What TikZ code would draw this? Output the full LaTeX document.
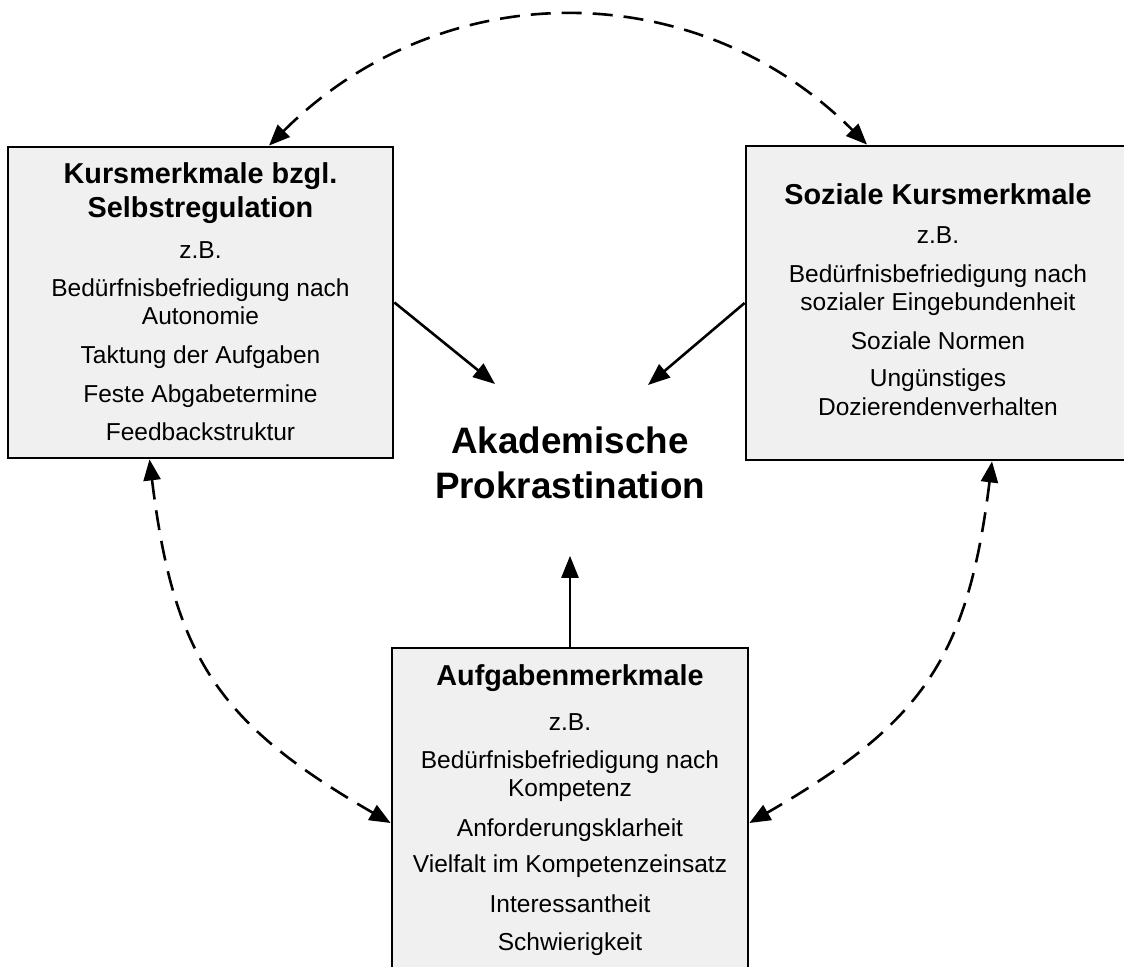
\documentclass[tikz,border=0pt]{standalone}
\usepackage{fontspec}
\setmainfont{Liberation Sans}
\usetikzlibrary{arrows.meta,calc}
\definecolor{boxfill}{RGB}{240,240,240}
\begin{document}
\begin{tikzpicture}[x=0.5pt,y=0.5pt,
  box/.style={draw=black,line width=1.4pt,fill=boxfill,inner sep=0pt},
  txt/.style={align=center,inner sep=0pt,anchor=north,font=\fontsize{12.25}{14.35}\selectfont},
  arr/.style={line width=1.3pt,-{Triangle[length=11pt,width=8.5pt]}},
  darr/.style={line width=1.3pt,dash pattern=on 10pt off 5.5pt,{Triangle[length=10.5pt,width=8.5pt]}-{Triangle[length=10.5pt,width=8.5pt]}},
]
\useasboundingbox (0,0) rectangle (1124,-967);

% boxes
\node[box,minimum width=192.5pt,minimum height=155.5pt] (L) at (200.5,-302.5) {};
\node[box,minimum width=192pt,minimum height=157pt] (R) at (938,-303) {};
\node[box,minimum width=178pt,minimum height=163.5pt] (B) at (570,-811.5) {};

% texts
\node[txt] (Lt) at (200.5,-162) {{\bfseries\fontsize{14.4}{17}\selectfont Kursmerkmale bzgl.}\\[2.65pt]
{\bfseries\fontsize{14.4}{17}\selectfont Selbstregulation}\\[6.15pt]
z.B.\\[4.65pt]
Bedürfnisbefriedigung nach\\
Autonomie\\[5.15pt]
Taktung der Aufgaben\\[4.9pt]
Feste Abgabetermine\\[4.9pt]
Feedbackstruktur};

\node[txt] (Rt) at (938,-183) {{\bfseries\fontsize{14.4}{17}\selectfont Soziale Kursmerkmale}\\[5.15pt]
z.B.\\[5.15pt]
Bedürfnisbefriedigung nach\\
sozialer Eingebundenheit\\[5.15pt]
Soziale Normen\\[4.15pt]
Ungünstiges\\
Dozierendenverhalten};

\node[txt] (Bt) at (570,-664) {{\bfseries\fontsize{14.4}{17}\selectfont Aufgabenmerkmale}\\[8.15pt]
z.B.\\[4.65pt]
Bedürfnisbefriedigung nach\\
Kompetenz\\[5.65pt]
Anforderungsklarheit\\[3.65pt]
Vielfalt im Kompetenzeinsatz\\[5.65pt]
Interessantheit\\[4.65pt]
Schwierigkeit};

\node[align=center,inner sep=0pt,anchor=north,font=\bfseries\fontsize{18.4}{22.5}\selectfont] (C) at (570,-426) {Akademische\\Prokrastination};

% solid arrows
\draw[arr] (L.east) -- ($(C.north)+(-75,42)$);
\draw[arr] (R.west) -- ($(C.north)+(78,41)$);
\draw[arr] (B.north) -- ($(C.south)+(0,-57)$);

% dashed arcs
\draw[darr] ($(L.north)+(68.5,0)$) to[out=45,in=135,looseness=1.04] ($(R.north)+(-71,0)$);
\draw[darr] ($(L.south)+(-51,0)$) to[out=-83,in=150,looseness=1.17] ($(B.west)+(0,-11.5)$);
\draw[darr] ($(R.south)+(54,0)$) to[out=-97,in=30,looseness=1.17] ($(B.east)+(0,-11.5)$);
\end{tikzpicture}
\end{document}
